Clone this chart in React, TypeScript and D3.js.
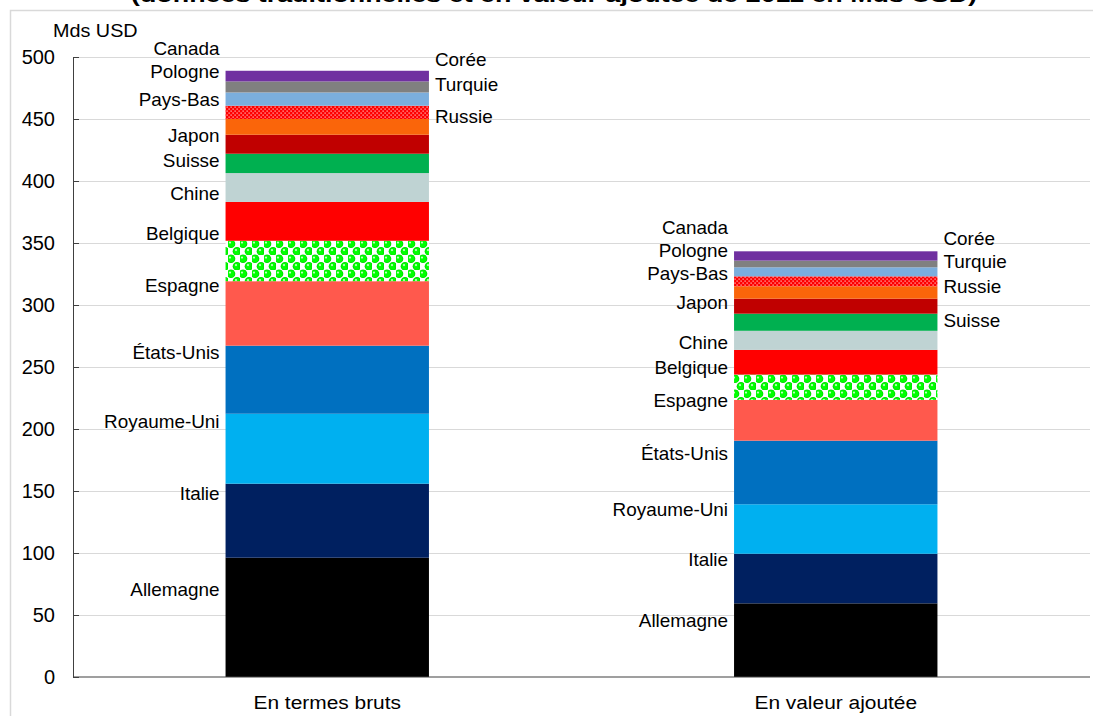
import React from "react";
import * as d3 from "d3";

const categories = ["En termes bruts", "En valeur ajoutée"];
const countries = [
  "Allemagne", "Italie", "Royaume-Uni", "États-Unis", "Espagne", "Belgique", "Chine",
  "Suisse", "Japon", "Russie", "Pays-Bas", "Turquie", "Pologne", "Corée", "Canada",
];
const grossValues = [96.2, 59.7, 56.4, 54.9, 52.0, 32.6, 31.3, 23.3, 15.6, 15.3, 12.7, 10.7, 10.7, 8.9, 8.6];
const valueAddedValues = [59.4, 40.0, 39.9, 51.3, 32.9, 20.4, 19.9, 15.4, 13.8, 12.1, 10.0, 8.0, 7.3, 5.4, 7.5];
const seriesFills = [
  "#000000", "#002060", "#00B0F0", "#0070C0", "#FF594D", "url(#spheres)", "#FF0000",
  "#BFD3D3", "#00B050", "#C00000", "#FA650A", "url(#reddots)", "#7BAEDD", "#808080", "#7030A0",
];
const yTicks = [0, 50, 100, 150, 200, 250, 300, 350, 400, 450, 500];
const rightLabelsGross = ["Russie", "Turquie", "Corée"];
const rightLabelsVA = ["Suisse", "Russie", "Turquie", "Corée"];
const title = "(données traditionnelles et en valeur ajoutée de 2011 en Mds USD)";
const unitLabel = "Mds USD";

const W = 1093;
const H = 716;
const FONT = "'Liberation Sans', Arial, sans-serif";

export default function App() {
  const margin = { left: 73, right: 1090, top: 57, bottom: 677 };
  const x = d3
    .scaleBand<string>()
    .domain(categories)
    .range([margin.left, margin.right])
    .paddingInner(0.6)
    .paddingOuter(0.3);
  const y = d3.scaleLinear().domain([0, 500]).range([margin.bottom, margin.top]);

  const table = categories.map((c, ci) => {
    const row: any = { category: c };
    countries.forEach((k, i) => {
      row[k] = ci === 0 ? grossValues[i] : valueAddedValues[i];
    });
    return row;
  });
  const stacked = d3.stack<any>().keys(countries)(table);

  // label layout: labels sit a little above their segment, then are spread apart
  const labels: { text: string; x: number; y: number; anchor: string }[] = [];
  categories.forEach((c, ci) => {
    const rightSet = ci === 0 ? rightLabelsGross : rightLabelsVA;
    const x0 = x(c)!;
    const x1 = x0 + x.bandwidth();
    const total = d3.sum(ci === 0 ? grossValues : valueAddedValues);
    const lift = total * 0.045;
    const sides: { [k: string]: { text: string; y: number }[] } = { left: [], right: [] };
    stacked.forEach((s) => {
      const d = s[ci];
      const mid = y((d[0] + d[1]) / 2 + lift);
      const side = rightSet.includes(s.key) ? "right" : "left";
      sides[side].push({ text: s.key, y: mid });
    });
    (["left", "right"] as const).forEach((side) => {
      const arr = sides[side].sort((a, b) => b.y - a.y);
      for (let i = 1; i < arr.length; i++) {
        arr[i].y = Math.min(arr[i].y, arr[i - 1].y - 23);
      }
      arr.forEach((l) =>
        labels.push({
          text: l.text,
          y: l.y,
          x: side === "left" ? x0 - 6 : x1 + 6,
          anchor: side === "left" ? "end" : "start",
        })
      );
    });
  });

  return (
    <svg
      width={W}
      height={H}
      style={{ position: "absolute", left: 0, top: 0, display: "block", background: "#fff" }}
      fontFamily={FONT}
    >
      <defs>
        <pattern id="spheres" patternUnits="userSpaceOnUse" width={12} height={15}>
          <rect width={12} height={15} fill="#ffffff" />
          <circle cx={3} cy={3.75} r={4.3} fill="#00D800" />
          <circle cx={9} cy={11.25} r={4.3} fill="#00D800" />
          <circle cx={3} cy={3.75} r={3.5} fill="#00FF00" />
          <circle cx={9} cy={11.25} r={3.5} fill="#00FF00" />
          <circle cx={2} cy={2.6} r={1.1} fill="#C0FFC0" />
          <circle cx={8} cy={10.1} r={1.1} fill="#C0FFC0" />
          <circle cx={3} cy={18.75} r={4.3} fill="#00D800" />
          <circle cx={3} cy={18.75} r={3.5} fill="#00FF00" />
          <circle cx={15} cy={11.25} r={4.3} fill="#00D800" />
          <circle cx={15} cy={11.25} r={3.5} fill="#00FF00" />
        </pattern>
        <pattern id="reddots" patternUnits="userSpaceOnUse" width={4} height={4}>
          <rect width={4} height={4} fill="#FF0000" />
          <rect x={0.5} y={0.5} width={1.2} height={1.2} fill="#FFD0D0" />
          <rect x={2.5} y={2.5} width={1.2} height={1.2} fill="#FFD0D0" />
        </pattern>
      </defs>

      {/* title (clipped at top, as in the source) */}
      <text
        x={554}
        y={2}
        textAnchor="middle"
        fontWeight="bold"
        fontSize={20}
        textLength={846}
        lengthAdjust="spacingAndGlyphs"
        fill="#000"
      >
        {title}
      </text>

      {/* chart border */}
      <rect x={10.5} y={10.5} width={1200} height={800} fill="none" stroke="#D9D9D9" strokeWidth={1.5} />

      {/* gridlines */}
      {yTicks
        .filter((t) => t !== 0)
        .map((t) => (
          <line
            key={"g" + t}
            x1={margin.left}
            x2={margin.right}
            y1={Math.round(y(t)) + 0.5}
            y2={Math.round(y(t)) + 0.5}
            stroke="#D9D9D9"
            strokeWidth={1}
          />
        ))}

      {/* bars */}
      {stacked.map((s, si) =>
        s.map((d, ci) => (
          <rect
            key={s.key + ci}
            x={x(categories[ci])!}
            y={y(d[1])}
            width={x.bandwidth()}
            height={y(d[0]) - y(d[1])}
            fill={seriesFills[si]}
          />
        ))
      )}

      {/* axes */}
      <line x1={margin.left + 0.5} x2={margin.left + 0.5} y1={y(500)} y2={y(0)} stroke="#404040" strokeWidth={1} />
      <line x1={margin.left} x2={margin.right} y1={y(0)} y2={y(0)} stroke="#404040" strokeWidth={1.2} />
      {yTicks.map((t) => (
        <g key={"t" + t}>
          <line
            x1={margin.left}
            x2={margin.left + 6}
            y1={Math.round(y(t)) + 0.5}
            y2={Math.round(y(t)) + 0.5}
            stroke="#404040"
          />
          <text x={55} y={y(t) + 7} textAnchor="end" fontSize={20} fill="#000">
            {t}
          </text>
        </g>
      ))}

      {/* unit label */}
      <text transform={`translate(53,36.5) scale(1.07,1)`} fontSize={18.5} fill="#000">
        {unitLabel}
      </text>

      {/* category labels */}
      {categories.map((c) => (
        <text
          key={c}
          transform={`translate(${x(c)! + x.bandwidth() / 2},709) scale(1.1,1)`}
          textAnchor="middle"
          fontSize={19}
          fill="#000"
        >
          {c}
        </text>
      ))}

      {/* series labels */}
      {labels.map((l, i) => (
        <text
          key={"l" + i}
          transform={`translate(${l.x},${l.y}) scale(1.08,1)`}
          textAnchor={l.anchor as any}
          dy="0.36em"
          fontSize={17.5}
          fill="#000"
        >
          {l.text}
        </text>
      ))}
    </svg>
  );
}
